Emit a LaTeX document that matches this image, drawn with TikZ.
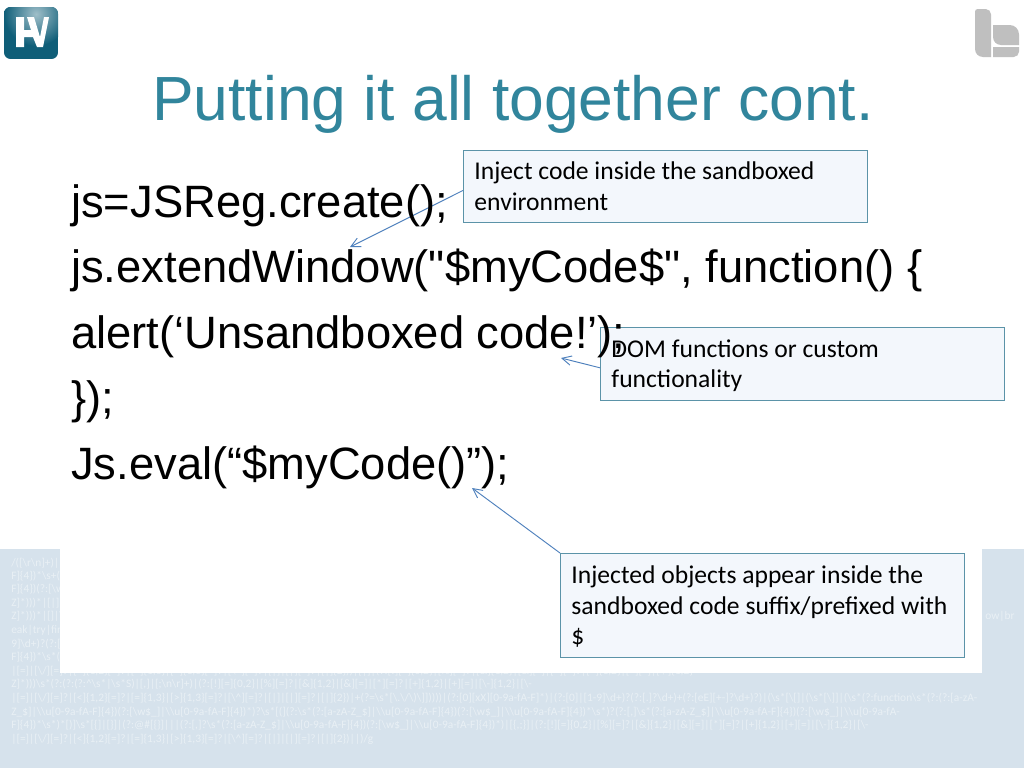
\documentclass[tikz,border=0pt]{standalone}
\usepackage{fontspec}
\setmainfont{Liberation Sans}[Ligatures=TeXOff]
\newfontfamily\calloutfont{Carlito}[Ligatures=TeXOff]
\usetikzlibrary{arrows.meta}
\definecolor{titleteal}{HTML}{31859C}
\definecolor{bandblue}{HTML}{D6E2EC}
\definecolor{regexwhite}{HTML}{E9F0F5}
\definecolor{boxfill}{HTML}{F3F7FC}
\definecolor{boxline}{HTML}{5B93A8}
\definecolor{linkline}{HTML}{4F81BD}
\definecolor{logoteal}{HTML}{0F5E78}
\colorlet{logogrey}{black!25}
\newcommand{\bs}{\textbackslash}
\newcommand{\calloutstrut}{\rule[-5pt]{0pt}{23pt}}
\newcommand{\opsrun}{[!][=]\{0,2\}|[\%][=]?|[\&]\{1,2\}|[\&][=]|[*][=]?|[+]\{1,2\}|[+][=]|[\bs-]\{1,2\}|[\bs-}
\newcommand{\opstail}{|[=]|[\bs/][=]?|[<]\{1,2\}[=]?|[=]\{1,3\}|[>]\{1,3\}[=]?|[\bs\textasciicircum][=]?|[|]|[|][=]?|[|]\{2\})}
\newcommand{\idrun}{[a-zA-Z\_\$]|\bs\bs u[0-9a-fA-F]\{4\})(?:[\bs w\$\_]|\bs\bs u[0-9a-fA-F]\{4\})}
\tikzset{
  x=0.75pt,y=-0.75pt,
  code/.style={anchor=base west,inner sep=0pt,font=\fontsize{34}{40}\selectfont},
  callout/.style={draw=boxline,fill=boxfill,line width=0.7pt,anchor=north west,align=flush left,
    text width=286.5pt,minimum width=303pt,inner xsep=8.25pt,inner ysep=0pt,
    execute at begin node=\calloutstrut,execute at end node=\calloutstrut,
    font=\calloutfont\fontsize{19.2}{23}\selectfont},
  regex/.style={anchor=base west,inner sep=0pt,text=regexwhite,font=\calloutfont\fontsize{8.55}{9}\selectfont},
  link/.style={draw=linkline,line width=0.7pt,-{Straight Barb[length=7pt,width=7pt]}}
}
\begin{document}
\begin{tikzpicture}
  \useasboundingbox (0,0) rectangle (1024,768);
  \fill[white] (0,0) rectangle (1024,768);
  % band with the regular expression
  \fill[bandblue] (0,549) rectangle (1024,768);
  \node[regex] (rxa) at (11,566) {/([\bs r\bs n]+)|(?:};
  \node[regex] (rxb) at (11,579) {F]\{4\})*\bs s+(?:};
  \node[regex] (rxc) at (11,592) {F]\{4\})(?:[\bs w\$\_]};
  \node[regex] (rxd) at (11,606) {Z]*)))*|[|]|[|]};
  \node[regex] (rxe) at (11,619.5) {Z]*)))*|[]|\bs s*};
  \node[regex] (rxf) at (11,633) {eak|try|finally};
  \node[regex] (rxg) at (11,647) {9]\bs d+)?(?:[.]?};
  \node[regex] (rxh) at (11,660) {F]\{4\})*\bs s*(?:};
  \node[regex] (rxi) at (11,674.5) {\opstail)|[|]|(?:[!][=]\{0,2\}|[\%][=]?|[\&]\{1,2\}|[\&][=]|[*][=]?|[+]\{1,2\}|[+][=]|[\bs-]\{1,2\}};
  \node[regex] (rxj) at (11,687) {Z]*)))\bs s*(?:(?:(?:\textasciicircum\bs s*|\bs s*S)|[,]|[;\bs n\bs r]+)|(?:\opsrun};
  \node[regex] (rxk) at (11,701) {\opstail|+(?=\bs s*[\bs.\bs/\bs)\bs]]))))|(?:[0][xX][0-9a-fA-F]*)|(?:[0]|[1-9]\bs d+)?(?:[.]?\bs d+)+(?:[eE][+-]?\bs d+)?)|(\bs s*[\bs[]|(\bs s*[\bs]]|(\bs s*(?:function\bs s*(?:(?:[a-zA-};
  \node[regex] (rxl) at (11,715) {Z\_\$]|\bs\bs u[0-9a-fA-F]\{4\})(?:[\bs w\$\_]|\bs\bs u[0-9a-fA-F]\{4\})*)?\bs s*[(](?:\bs s*(?:\idrun*\bs s*)?(?:[,]\bs s*(?:[a-zA-Z\_\$]|\bs\bs u[0-9a-fA-F]\{4\})(?:[\bs w\$\_]|\bs\bs u[0-9a-fA-};
  \node[regex] (rxm) at (11,728.5) {F]\{4\})*\bs s*)*[)]\bs s*[\{]|[\}]|(?:@\#[\{\}]|||(?:[,]?\bs s*(?:\idrun*)|[\{,;\}]|(?:\opsrun};
  \node[regex] (rxn) at (11,742.5) {\opstail||)/g};
  % white panel over the band
  \fill[white] (60,549) rectangle (982,673);
  \node[regex] (rxo) at (985,619.5) {ow|br};
  % logos
  \begin{scope}
    \clip[rounded corners=5pt] (4,7) rectangle (58,59);
    \fill[logoteal] (4,7) rectangle (58,59);
    \shade[inner color=logoteal!40,outer color=logoteal] (36,14) circle (32);
  \end{scope}
  \fill[white] (16,17)--(24,17)--(24,30)--(31,30)--(27,17)--(34,17)--(40,37)--(44,17)--(49,17)--(43,47)
    --(37,47)--(33,37)--(24,37)--(24,47)--(16,47)--cycle;
  \fill[logogrey] (975,12) [rounded corners=2pt] -- (975,9) [rounded corners=4pt] -- (991,9) [sharp corners] -- (991,57)
    [rounded corners=6pt] -- (975,57) [sharp corners] -- cycle;
  \fill[logogrey] (993,25) [rounded corners=7pt] -- (1019,25) [sharp corners] -- (1019,45)
    [rounded corners=6pt] -- (993,45) [sharp corners] -- cycle;
  \fill[logogrey] (993,47) -- (1019,47) [rounded corners=4pt] -- (1019,57) [sharp corners] -- (993,57) -- cycle;
  % title
  \node[anchor=base west,inner sep=0pt,text=titleteal,font=\fontsize{46.8}{56}\selectfont] (title) at (152,120)
    {Putting it all together cont.};
  % callouts
  \node[callout,minimum height=54pt] (inject) at (463,150)
    {Inject code inside the sandboxed\\environment};
  \node[callout,minimum height=54.5pt] (domfuncs) at (600,327)
    {DOM functions or custom\\functionality};
  \node[callout,minimum height=78pt] (objects) at (560,553)
    {Injected objects appear inside the\\sandboxed code suffix/prefixed with\\\$};
  \coordinate (createtip) at (350,247);
  \coordinate (alerttip) at (561,358);
  \coordinate (evaltip) at (472,488);
  \draw[link] ([yshift=-3pt]inject.west) -- (createtip);
  \draw[link] ([yshift=-3pt]domfuncs.west) -- (alerttip);
  \draw[link] (objects.north west) -- (evaltip);
  % code lines
  \node[code] (codea) at (71,217) {js=JSReg.create();};
  \node[code] (codeb) at (71,282) {js.extendWindow("\$myCode\$", function() \{};
  \node[code] (codec) at (71,348) {alert(‘Unsandboxed code!’);};
  \node[code] (coded) at (71,413) {\});};
  \node[code] (codee) at (71,479) {Js.eval(“\$myCode()”);};
\end{tikzpicture}
\end{document}
